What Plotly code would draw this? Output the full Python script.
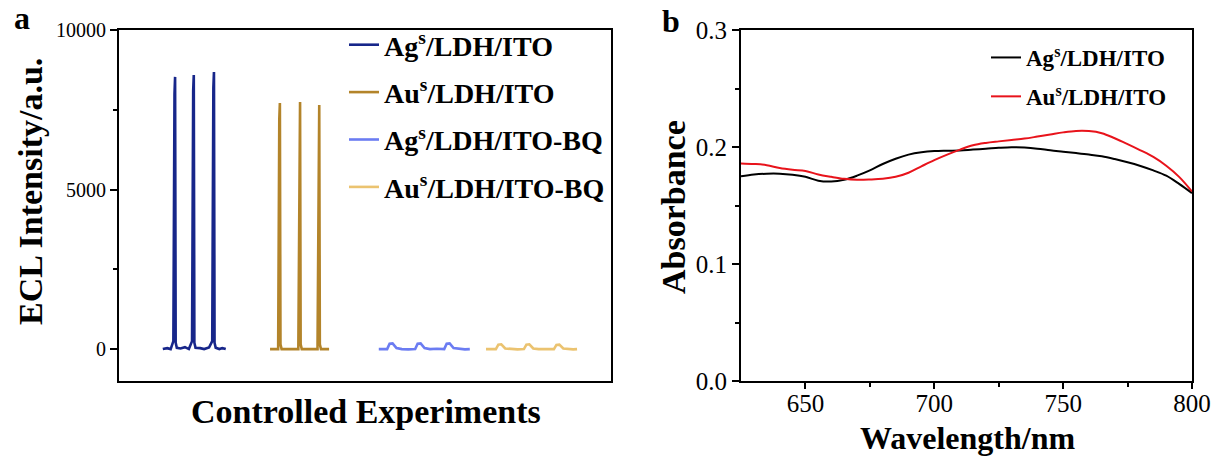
import plotly.graph_objects as go

# ---------------- Panel a data (arbitrary time axis 0-100) ----------------
ag_x = [8.9, 9.8, 10.5, 11.05, 11.28, 11.4, 11.52, 11.75, 12.5, 13.4, 14.2,
        14.85, 15.08, 15.2, 15.32, 15.55, 16.5, 17.3, 18.3,
        18.95, 19.18, 19.3, 19.42, 19.65, 20.4, 21.0, 21.7]
ag_y = [0, 30, 0, 250, 8000, 8530, 200, 40, 20, 60, 0,
        250, 8100, 8590, 200, 40, 30, 0, 50,
        250, 8200, 8680, 200, 40, 0, 30, 0]

au_x = [30.7, 32.35, 32.58, 32.7, 32.82, 33.05, 36.45, 36.68, 36.8, 36.92,
        37.15, 40.35, 40.58, 40.7, 40.82, 41.05, 42.7]
au_y = [0, 0, 7200, 7710, 150, 0, 0, 7300, 7745, 150,
        0, 0, 7200, 7650, 150, 0, 0]

agbq_x = [52.8, 53.8, 54.5, 55.0, 55.6, 56.4, 57.5, 58.8, 60.2, 60.7, 61.3,
          62.1, 63.2, 64.6, 66.1, 66.6, 67.2, 68.0, 69.2, 70.3, 71.3]
agbq_y = [0, -10, 0, 170, 180, 30, 0, -10, 0, 170, 180,
          30, 0, 10, 0, 170, 180, 30, 0, -10, 0]

aubq_x = [74.6, 75.6, 76.6, 77.1, 77.7, 78.5, 79.6, 81.0, 82.3, 82.8, 83.4,
          84.2, 85.3, 86.8, 88.4, 88.9, 89.5, 90.3, 91.4, 92.3, 93.1]
aubq_y = [0, -10, 0, 140, 150, 20, 0, -10, 0, 140, 150,
          20, 0, 10, 0, 130, 140, 20, 0, -10, 0]

ecl_ticks = [0, 5000, 10000]
ecl_minor = [2500, 7500]

# ---------------- Panel b data ----------------
wavelength = [625, 630, 635, 640, 645, 650, 655, 660, 665, 670, 675, 680,
              685, 690, 695, 700, 705, 710, 715, 720, 725, 730, 735, 740,
              745, 750, 755, 760, 765, 770, 775, 780, 785, 790, 795, 800]
abs_ag = [0.175, 0.1765, 0.1772, 0.1772, 0.1763, 0.1745, 0.1712, 0.1705,
          0.172, 0.1755, 0.180, 0.1855, 0.190, 0.1935, 0.1955, 0.1965,
          0.1968, 0.197, 0.1978, 0.1985, 0.1993, 0.1998, 0.1995, 0.1986,
          0.1972, 0.196, 0.1948, 0.1935, 0.192, 0.1897, 0.187, 0.1838,
          0.180, 0.1755, 0.1685, 0.1606]
abs_au = [0.186, 0.1855, 0.1845, 0.182, 0.1805, 0.1795, 0.1765, 0.1745,
          0.1728, 0.172, 0.1722, 0.1728, 0.1745, 0.178, 0.1835, 0.1888,
          0.1935, 0.1978, 0.2015, 0.2035, 0.2048, 0.206, 0.2072, 0.2089,
          0.2107, 0.2125, 0.2137, 0.2136, 0.2118, 0.2075, 0.2025, 0.1972,
          0.1915, 0.1840, 0.1745, 0.162]
wl_ticks = [650, 700, 750, 800]
wl_minor = [675, 725, 775]
abs_ticks = [0.0, 0.1, 0.2, 0.3]
abs_minor = [0.05, 0.15, 0.25]

names_a = ["Ag<sup>s</sup>/LDH/ITO", "Au<sup>s</sup>/LDH/ITO",
           "Ag<sup>s</sup>/LDH/ITO-BQ", "Au<sup>s</sup>/LDH/ITO-BQ"]
names_b = ["Ag<sup>s</sup>/LDH/ITO", "Au<sup>s</sup>/LDH/ITO"]

colors_a = ["#17268a", "#b3842a", "#6b7cf2", "#ebc370"]
colors_b = ["#000000", "#e8131b"]

SERIF = "Liberation Serif, Times New Roman, serif"
W, H = 1213, 457

fig = go.Figure()
series_a = [(ag_x, ag_y), (au_x, au_y), (agbq_x, agbq_y), (aubq_x, aubq_y)]
for i, ((x, y), nm, c) in enumerate(zip(series_a, names_a, colors_a)):
    fig.add_trace(go.Scatter(x=x, y=y, mode="lines", name=nm,
                             line=dict(color=c, width=2.6),
                             xaxis="x", yaxis="y", legend="legend",
                             legendgroup=f"a{i}"))

for i, (y, nm, c) in enumerate(zip([abs_ag, abs_au], names_b, colors_b)):
    fig.add_trace(go.Scatter(x=wavelength, y=y, mode="lines", name=nm,
                             line=dict(color=c, width=2, shape="spline"),
                             xaxis="x2", yaxis="y2", legend="legend2",
                             legendgroup=f"b{i}"))

ydom = [1 - 381 / H, 1 - 30 / H]
axis_common = dict(showline=True, linecolor="black", linewidth=2, mirror=True,
                   showgrid=False, zeroline=False, automargin=False)

fig.update_layout(
    width=W, height=H,
    margin=dict(l=0, r=0, t=0, b=0, autoexpand=False),
    paper_bgcolor="white", plot_bgcolor="white",
    font=dict(family=SERIF, color="black"),
    xaxis=dict(domain=[119 / W, 611 / W], range=[0, 100],
               showticklabels=False, ticks="", **axis_common),
    yaxis=dict(domain=ydom, range=[-1000, 10000], tickvals=ecl_ticks,
               tickformat="d",
               ticks="outside", ticklen=7, tickwidth=2, tickcolor="black",
               tickfont=dict(family=SERIF, size=20),
               minor=dict(tickvals=ecl_minor, ticks="outside", ticklen=4,
                          tickwidth=2, tickcolor="black"),
               **axis_common),
    xaxis2=dict(domain=[741 / W, 1192 / W], range=[625, 800],
                tickvals=wl_ticks, ticks="outside", ticklen=6, tickwidth=2,
                tickcolor="black", tickfont=dict(family=SERIF, size=25),
                ticklabelstandoff=-7,
                minor=dict(tickvals=wl_minor, ticks="outside", ticklen=4,
                           tickwidth=2, tickcolor="black"),
                anchor="y2", **axis_common),
    yaxis2=dict(domain=ydom, range=[0, 0.3], tickvals=abs_ticks,
                tickformat=".1f", ticks="outside", ticklen=7, tickwidth=2,
                tickcolor="black", tickfont=dict(family=SERIF, size=25),
                minor=dict(tickvals=abs_minor, ticks="outside", ticklen=4,
                           tickwidth=2, tickcolor="black"),
                anchor="x2", **axis_common),
    legend=dict(x=344 / W, y=1 - 20 / H, xanchor="left", yanchor="top",
                bgcolor="rgba(0,0,0,0)", borderwidth=0,
                font=dict(family=SERIF, size=28, weight="bold"),
                tracegroupgap=8),
    legend2=dict(x=986 / W, y=1 - 36 / H, xanchor="left", yanchor="top",
                 bgcolor="rgba(0,0,0,0)", borderwidth=0,
                 font=dict(family=SERIF, size=23, weight="bold"),
                 tracegroupgap=6),
    showlegend=True,
)

title_font = dict(family=SERIF, size=34, weight="bold", color="black")
annots = [
    dict(text="ECL Intensity/a.u.", x=30 / W, y=1 - 192 / H, textangle=-90,
         font=title_font),
    dict(text="Controlled Experiments", x=366 / W, y=1 - 411 / H,
         font=title_font),
    dict(text="Absorbance", x=673 / W, y=1 - 207 / H, textangle=-90,
         font=title_font),
    dict(text="Wavelength/nm", x=967 / W, y=1 - 438 / H,
         font=dict(family=SERIF, size=32, weight="bold", color="black")),
    dict(text="a", x=22 / W, y=1 - 18 / H,
         font=dict(family=SERIF, size=32, weight="bold", color="black")),
    dict(text="b", x=671 / W, y=1 - 21 / H,
         font=dict(family=SERIF, size=32, weight="bold", color="black")),
]
for a in annots:
    fig.add_annotation(xref="paper", yref="paper", showarrow=False,
                       xanchor="center", yanchor="middle", **a)

fig.write_html("out.html")
